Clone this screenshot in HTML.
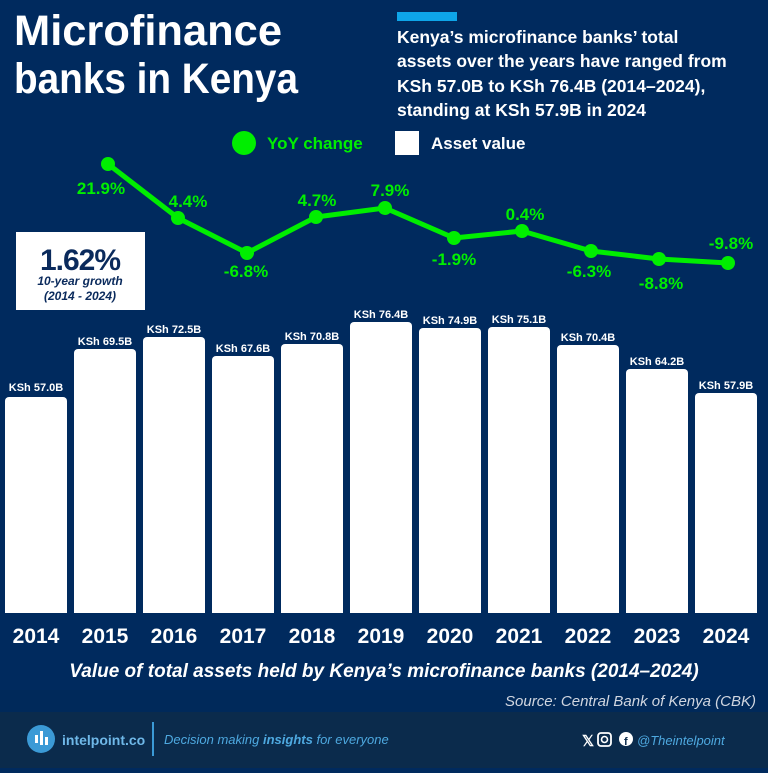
<!DOCTYPE html>
<html><head><style>
body{margin:0;width:768px;height:768px;overflow:hidden;background:#002a5e;font-family:"Liberation Sans",sans-serif;}
</style></head><body>
<svg width="768" height="768" viewBox="0 0 768 768" xmlns="http://www.w3.org/2000/svg" font-family="Liberation Sans, sans-serif">
<rect width="768" height="768" fill="#002a5e"/>
<rect y="690" width="768" height="22" fill="#00295a"/>
<rect y="712" width="768" height="56" fill="#0b2b4c"/>
<text x="14" y="45" fill="#fff" font-size="43" font-weight="bold" textLength="268" lengthAdjust="spacingAndGlyphs">Microfinance</text>
<text x="14" y="93" fill="#fff" font-size="43" font-weight="bold" textLength="284" lengthAdjust="spacingAndGlyphs">banks in Kenya</text>
<rect x="397" y="12" width="60" height="9" fill="#0ea5e9"/>
<g fill="#fff" font-size="17.5" font-weight="bold">
<text x="397" y="43">Kenya’s microfinance banks’ total</text>
<text x="397" y="67">assets over the years have ranged from</text>
<text x="397" y="92">KSh 57.0B to KSh 76.4B (2014–2024),</text>
<text x="397" y="116">standing at KSh 57.9B in 2024</text>
</g>
<circle cx="244" cy="143" r="12" fill="#00ee00"/>
<text x="267" y="149" fill="#00ee00" font-size="17" font-weight="bold">YoY change</text>
<rect x="395" y="131" width="24" height="24" fill="#fff"/>
<text x="431" y="149" fill="#fff" font-size="17" font-weight="bold">Asset value</text>
<rect x="16" y="232" width="129" height="78" fill="#fff"/>
<text x="80" y="270" fill="#0a2a5c" font-size="30" font-weight="bold" text-anchor="middle" letter-spacing="-1">1.62%</text>
<text x="80" y="285" fill="#0a2a5c" font-size="12" font-weight="bold" font-style="italic" text-anchor="middle">10-year growth</text>
<text x="80" y="300" fill="#0a2a5c" font-size="12" font-weight="bold" font-style="italic" text-anchor="middle">(2014 - 2024)</text>
<polyline points="108,164 178,218 247,253 316,217 385,208 454,238 522,231 591,251 659,259 728,263" fill="none" stroke="#00ee00" stroke-width="5" stroke-linejoin="round"/>
<g fill="#00ee00">
<circle cx="108" cy="164" r="7"/><circle cx="178" cy="218" r="7"/><circle cx="247" cy="253" r="7"/><circle cx="316" cy="217" r="7"/><circle cx="385" cy="208" r="7"/><circle cx="454" cy="238" r="7"/><circle cx="522" cy="231" r="7"/><circle cx="591" cy="251" r="7"/><circle cx="659" cy="259" r="7"/><circle cx="728" cy="263" r="7"/>
</g>
<g fill="#00ee00" font-size="17" font-weight="bold" text-anchor="middle">
<text x="101" y="194">21.9%</text><text x="188" y="207">4.4%</text><text x="246" y="277">-6.8%</text><text x="317" y="206">4.7%</text><text x="390" y="196">7.9%</text><text x="454" y="265">-1.9%</text><text x="525" y="220">0.4%</text><text x="589" y="277">-6.3%</text><text x="661" y="289">-8.8%</text><text x="731" y="249">-9.8%</text>
</g>
<g fill="#fff">
<path d="M5,613V401a4,4 0 0 1 4,-4h54a4,4 0 0 1 4,4V613z"/>
<path d="M74,613V353a4,4 0 0 1 4,-4h54a4,4 0 0 1 4,4V613z"/>
<path d="M143,613V341a4,4 0 0 1 4,-4h54a4,4 0 0 1 4,4V613z"/>
<path d="M212,613V360a4,4 0 0 1 4,-4h54a4,4 0 0 1 4,4V613z"/>
<path d="M281,613V348a4,4 0 0 1 4,-4h54a4,4 0 0 1 4,4V613z"/>
<path d="M350,613V326a4,4 0 0 1 4,-4h54a4,4 0 0 1 4,4V613z"/>
<path d="M419,613V332a4,4 0 0 1 4,-4h54a4,4 0 0 1 4,4V613z"/>
<path d="M488,613V331a4,4 0 0 1 4,-4h54a4,4 0 0 1 4,4V613z"/>
<path d="M557,613V349a4,4 0 0 1 4,-4h54a4,4 0 0 1 4,4V613z"/>
<path d="M626,613V373a4,4 0 0 1 4,-4h54a4,4 0 0 1 4,4V613z"/>
<path d="M695,613V397a4,4 0 0 1 4,-4h54a4,4 0 0 1 4,4V613z"/>
</g>
<g fill="#fff" font-size="11" font-weight="bold" text-anchor="middle">
<text x="36" y="391">KSh 57.0B</text><text x="105" y="345">KSh 69.5B</text><text x="174" y="333">KSh 72.5B</text><text x="243" y="352">KSh 67.6B</text><text x="312" y="340">KSh 70.8B</text><text x="381" y="318">KSh 76.4B</text><text x="450" y="324">KSh 74.9B</text><text x="519" y="323">KSh 75.1B</text><text x="588" y="341">KSh 70.4B</text><text x="657" y="365">KSh 64.2B</text><text x="726" y="389">KSh 57.9B</text>
</g>
<g fill="#fff" font-size="21" font-weight="bold" text-anchor="middle">
<text x="36" y="643">2014</text><text x="105" y="643">2015</text><text x="174" y="643">2016</text><text x="243" y="643">2017</text><text x="312" y="643">2018</text><text x="381" y="643">2019</text><text x="450" y="643">2020</text><text x="519" y="643">2021</text><text x="588" y="643">2022</text><text x="657" y="643">2023</text><text x="726" y="643">2024</text>
</g>
<text x="384" y="677" fill="#fff" font-size="19" font-weight="bold" font-style="italic" text-anchor="middle">Value of total assets held by Kenya’s microfinance banks (2014–2024)</text>
<text x="756" y="706" fill="#d0d6e0" font-size="15" font-style="italic" text-anchor="end">Source: Central Bank of Kenya (CBK)</text>
<circle cx="41" cy="739" r="14" fill="#3b9ad6"/>
<g fill="#fff"><rect x="35" y="735" width="3" height="8"/><rect x="40" y="731" width="3" height="14"/><rect x="45" y="737" width="3" height="8"/></g>
<text x="62" y="745" fill="#6fb8e8" font-size="14" font-weight="bold">intelpoint.co</text>
<rect x="152" y="722" width="2" height="34" fill="#3b9ad6"/>
<text x="164" y="744" fill="#4ea9e0" font-size="13" font-style="italic">Decision making <tspan font-weight="bold">insights</tspan> for everyone</text>
<text x="582" y="746" fill="#fff" font-size="15" font-weight="bold">𝕏</text>
<rect x="598" y="733" width="13" height="13" rx="3" fill="none" stroke="#fff" stroke-width="1.8"/><circle cx="604.5" cy="739.5" r="3" fill="none" stroke="#fff" stroke-width="1.6"/>
<circle cx="626" cy="739" r="7" fill="#fff"/><text x="624" y="745" fill="#0b2b4c" font-size="11" font-weight="bold">f</text>
<text x="637" y="745" fill="#4ea9e0" font-size="13" font-style="italic">@Theintelpoint</text>
</svg>
</body></html>
